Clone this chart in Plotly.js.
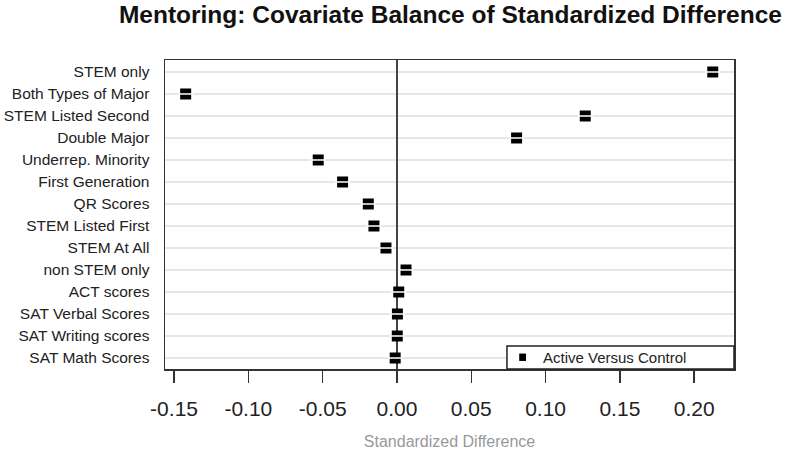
<!DOCTYPE html>
<html>
<head>
<meta charset="utf-8">
<script src="https://cdn.plot.ly/plotly-3.0.1.min.js"></script>
<style>html,body{margin:0;padding:0;background:#fff;}#chart{width:800px;height:450px;}</style>
</head>
<body>
<div id="chart"></div>
<script>
// Covariates, listed top to bottom as in the chart
const covariates = [
  "STEM only", "Both Types of Major", "STEM Listed Second", "Double Major",
  "Underrep. Minority", "First Generation", "QR Scores", "STEM Listed First",
  "STEM At All", "non STEM only", "ACT scores", "SAT Verbal Scores",
  "SAT Writing scores", "SAT Math Scores"
];
// Standardized difference: Active versus Control
const stdDiff = [
  0.2125, -0.1422, 0.1267, 0.0805,
  -0.0530, -0.0366, -0.0193, -0.0155,
  -0.0074, 0.0061, 0.0012, 0.0003,
  0.0002, -0.0012
];
const xTicks = [-0.15, -0.10, -0.05, 0.00, 0.05, 0.10, 0.15, 0.20];
const xTickText = ["-0.15", "-0.10", "-0.05", "0.00", "0.05", "0.10", "0.15", "0.20"];
const seriesName = "Active Versus Control";

const font = "Liberation Sans, Arial, sans-serif";

const traces = [
  {
    type: "scatter", mode: "markers", name: seriesName, showlegend: false,
    x: stdDiff, y: covariates,
    marker: {symbol: "square", size: 11, color: "#000"},
    hoverinfo: "x+y"
  },
  {
    type: "scatter", mode: "markers", showlegend: false,
    x: stdDiff, y: covariates,
    marker: {symbol: "line-ew", size: 11, color: "#fff", line: {color: "#fff", width: 1.5}},
    hoverinfo: "skip"
  }
];

// manual legend box (R-style) in the lower right corner of the plot
const legX0 = 0.601, legY1 = 0.0744;
const shapes = [
  {type: "rect", xref: "paper", yref: "paper", x0: legX0, x1: 1, y0: 0, y1: legY1,
   line: {color: "#222", width: 1.5}, fillcolor: "#fff", layer: "above"},
  {type: "rect", xref: "paper", yref: "paper", x0: 0.6225, x1: 0.6345, y0: 0.026, y1: 0.05,
   line: {width: 0}, fillcolor: "#000", layer: "above"}
];
const annotations = [
  {xref: "paper", yref: "paper", x: 0.6605, y: legY1 / 2, xanchor: "left", yanchor: "middle",
   text: seriesName, showarrow: false, font: {family: font, size: 15, color: "#222"}}
];

const layout = {
  width: 800, height: 450,
  margin: {l: 165, r: 66, t: 60, b: 81},
  paper_bgcolor: "#fff", plot_bgcolor: "#fff",
  font: {family: font, color: "#222"},
  title: {
    text: "<b>Mentoring: Covariate Balance of Standardized Difference</b>",
    font: {family: font, size: 24.5, color: "#111"},
    x: 0.563, xanchor: "center", y: 0.967, yanchor: "middle"
  },
  xaxis: {
    range: [-0.1561, 0.2268],
    tickvals: xTicks, ticktext: xTickText,
    ticks: "outside", ticklen: 12, tickwidth: 1.5, tickcolor: "#333",
    ticklabelstandoff: 8,
    tickfont: {family: font, size: 21, color: "#222"},
    showgrid: false, zeroline: true, zerolinecolor: "#444", zerolinewidth: 1.2,
    showline: true, linecolor: "#333", linewidth: 1.5, mirror: true,
    title: {text: "Standardized Difference", font: {family: font, size: 16, color: "#999"}, standoff: 42},
    automargin: false
  },
  yaxis: {
    type: "category",
    categoryorder: "array", categoryarray: covariates,
    range: [13.5, -0.545],
    showgrid: true, gridcolor: "#e6e6e6", gridwidth: 1.2,
    ticks: "", ticklabelstandoff: 11,
    tickfont: {family: font, size: 15.5, color: "#222"},
    showline: true, linecolor: "#333", linewidth: 1.5, mirror: true,
    automargin: false
  },
  showlegend: false,
  shapes: shapes,
  annotations: annotations
};

Plotly.newPlot("chart", traces, layout, {displayModeBar: false, staticPlot: true});
</script>
</body>
</html>
